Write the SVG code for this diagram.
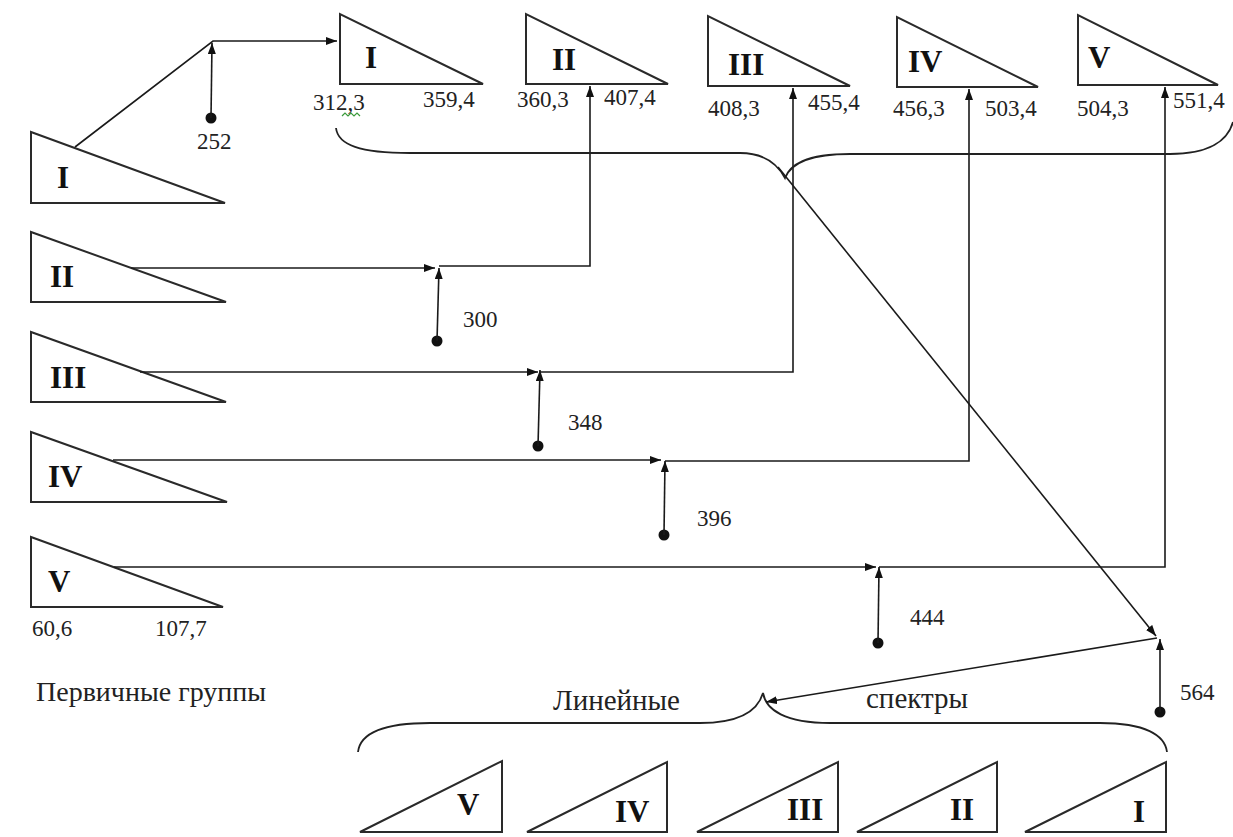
<svg xmlns="http://www.w3.org/2000/svg" width="1233" height="837" viewBox="0 0 1233 837">
<style>
text{font-family:'Liberation Serif','Times New Roman','DejaVu Serif',serif}
.tri{fill:#fff;stroke:#2a2a2a;stroke-width:2;stroke-linejoin:miter}
.rn{font-weight:bold;font-size:31px;fill:#111}
.num{font-size:23px;fill:#222}
.cap{font-size:29px;fill:#222}
.ln{fill:none;stroke:#1a1a1a;stroke-width:1.6}
.ar{fill:none;stroke:#1a1a1a;stroke-width:1.6;marker-end:url(#ah)}
.dot{fill:#111}
.brace{fill:none;stroke:#222;stroke-width:1.8}
</style>
<defs>
<marker id="ah" markerUnits="userSpaceOnUse" markerWidth="12" markerHeight="10" refX="11" refY="4" orient="auto">
<path d="M0,0 L11,4 L0,8 z" fill="#111"/>
</marker>
</defs>
<rect width="1233" height="837" fill="#fff"/>

<!-- primary groups (left) -->
<g id="p1"><path class="tri" d="M31,132 L31,203 L225,203 Z"/><text class="rn" x="57" y="188" font-family="Liberation Serif, serif">I</text></g>
<g id="p2"><path class="tri" d="M31,232 L31,302 L226,302 Z"/><text class="rn" x="50" y="287" font-family="Liberation Serif, serif">II</text></g>
<g id="p3"><path class="tri" d="M31,332 L31,402 L226,402 Z"/><text class="rn" x="50" y="388" font-family="Liberation Serif, serif">III</text></g>
<g id="p4"><path class="tri" d="M31,432 L31,502 L227,502 Z"/><text class="rn" x="48" y="487" font-family="Liberation Serif, serif">IV</text></g>
<g id="p5"><path class="tri" d="M31,537 L31,607 L223,607 Z"/><text class="rn" x="48" y="592" font-family="Liberation Serif, serif">V</text>
<text class="num" x="32" y="636" font-family="Liberation Serif, serif">60,6</text><text class="num" x="155" y="636" font-family="Liberation Serif, serif">107,7</text></g>
<g id="primary-label"><text class="cap" x="36" y="701" style="font-size:28px" font-family="Liberation Serif, serif">Первичные группы</text></g>

<!-- shifted groups (top) -->
<g id="t1"><path class="tri" d="M340,14 L340,84 L483,84 Z"/><text class="rn" x="365" y="68" font-family="Liberation Serif, serif">I</text>
<text class="num" x="313" y="110" font-family="Liberation Serif, serif">312,3</text><text class="num" x="423" y="107" font-family="Liberation Serif, serif">359,4</text>
<path d="M342,116 l3,-3 l3,3 l3,-3 l3,3 l3,-3 l3,3" fill="none" stroke="#3a9a3a" stroke-width="1.2"/></g>
<g id="t2"><path class="tri" d="M526,14 L526,84 L668,84 Z"/><text class="rn" x="552" y="70" font-family="Liberation Serif, serif">II</text>
<text class="num" x="517" y="107" font-family="Liberation Serif, serif">360,3</text><text class="num" x="604" y="105" font-family="Liberation Serif, serif">407,4</text></g>
<g id="t3"><path class="tri" d="M708,16 L708,86 L850,86 Z"/><text class="rn" x="728" y="75" font-family="Liberation Serif, serif">III</text>
<text class="num" x="708" y="116" font-family="Liberation Serif, serif">408,3</text><text class="num" x="808" y="110" font-family="Liberation Serif, serif">455,4</text></g>
<g id="t4"><path class="tri" d="M897,17 L897,87 L1038,87 Z"/><text class="rn" x="908" y="72" font-family="Liberation Serif, serif">IV</text>
<text class="num" x="893" y="116" font-family="Liberation Serif, serif">456,3</text><text class="num" x="985" y="116" font-family="Liberation Serif, serif">503,4</text></g>
<g id="t5"><path class="tri" d="M1078,15 L1078,85 L1218,85 Z"/><text class="rn" x="1088" y="68" font-family="Liberation Serif, serif">V</text>
<text class="num" x="1077" y="116" font-family="Liberation Serif, serif">504,3</text><text class="num" x="1173" y="108" font-family="Liberation Serif, serif">551,4</text></g>

<!-- line spectra (bottom) -->
<g id="b5"><path class="tri" d="M360,832 L502,761 L502,832 Z"/><text class="rn" x="457" y="815" font-family="Liberation Serif, serif">V</text></g>
<g id="b4"><path class="tri" d="M527,832 L667,762 L667,832 Z"/><text class="rn" x="615" y="822" font-family="Liberation Serif, serif">IV</text></g>
<g id="b3"><path class="tri" d="M697,832 L838,762 L838,832 Z"/><text class="rn" x="787" y="820" font-family="Liberation Serif, serif">III</text></g>
<g id="b2"><path class="tri" d="M857,832 L997,762 L997,832 Z"/><text class="rn" x="950" y="820" font-family="Liberation Serif, serif">II</text></g>
<g id="b1"><path class="tri" d="M1025,832 L1166,762 L1166,832 Z"/><text class="rn" x="1133" y="822" font-family="Liberation Serif, serif">I</text></g>
<g id="spectra-label"><text class="cap" x="553" y="710" font-family="Liberation Serif, serif">Линейные</text><text class="cap" x="866" y="708" font-family="Liberation Serif, serif">спектры</text></g>

<!-- carrier frequencies -->
<g id="carriers">
<circle class="dot" cx="211" cy="118" r="5.5"/><text class="num" x="197" y="149" font-family="Liberation Serif, serif">252</text>
<circle class="dot" cx="437" cy="341" r="5.5"/><text class="num" x="463" y="327" font-family="Liberation Serif, serif">300</text>
<circle class="dot" cx="538" cy="446" r="5.5"/><text class="num" x="568" y="430" font-family="Liberation Serif, serif">348</text>
<circle class="dot" cx="664" cy="535" r="5.5"/><text class="num" x="697" y="526" font-family="Liberation Serif, serif">396</text>
<circle class="dot" cx="878" cy="643" r="5.5"/><text class="num" x="910" y="625" font-family="Liberation Serif, serif">444</text>
<circle class="dot" cx="1160" cy="712" r="5.5"/><text class="num" x="1180" y="700" font-family="Liberation Serif, serif">564</text>
</g>

<!-- connectors -->
<g id="connectors">
<polyline class="ar" points="75,147 213,41 337,41"/>
<line class="ar" x1="211" y1="118" x2="212" y2="43"/>
<line class="ar" x1="131" y1="268" x2="435" y2="268"/>
<line class="ar" x1="437" y1="341" x2="439" y2="268"/>
<polyline class="ar" points="439,266 590,266 590,86"/>
<line class="ar" x1="140" y1="372" x2="538" y2="372"/>
<line class="ar" x1="538" y1="446" x2="540" y2="370"/>
<polyline class="ar" points="540,372 793,372 793,88"/>
<line class="ar" x1="113" y1="460" x2="661" y2="460"/>
<line class="ar" x1="664" y1="535" x2="665" y2="461"/>
<polyline class="ar" points="665,461 969,461 969,89"/>
<line class="ar" x1="114" y1="567" x2="876" y2="567"/>
<line class="ar" x1="878" y1="643" x2="879" y2="567"/>
<polyline class="ar" points="879,567 1165,567 1165,87"/>
<path class="brace" d="M336,128 C338,145 360,153 410,153 L740,153 C765,153 778,165 785,178 C790,165 805,154 850,154 L1170,154 C1210,154 1228,140 1233,122"/>
<path class="brace" d="M358,752 C360,735 380,723 430,723 L700,723 C740,723 758,710 763,693 C766,710 785,723 830,723 L1100,723 C1145,723 1165,735 1167,752"/>
<line class="ar" x1="778" y1="167" x2="1156" y2="636"/>
<line class="ar" x1="1160" y1="712" x2="1160" y2="639"/>
<line class="ar" x1="1157" y1="638" x2="766" y2="702"/>
</g>
</svg>
